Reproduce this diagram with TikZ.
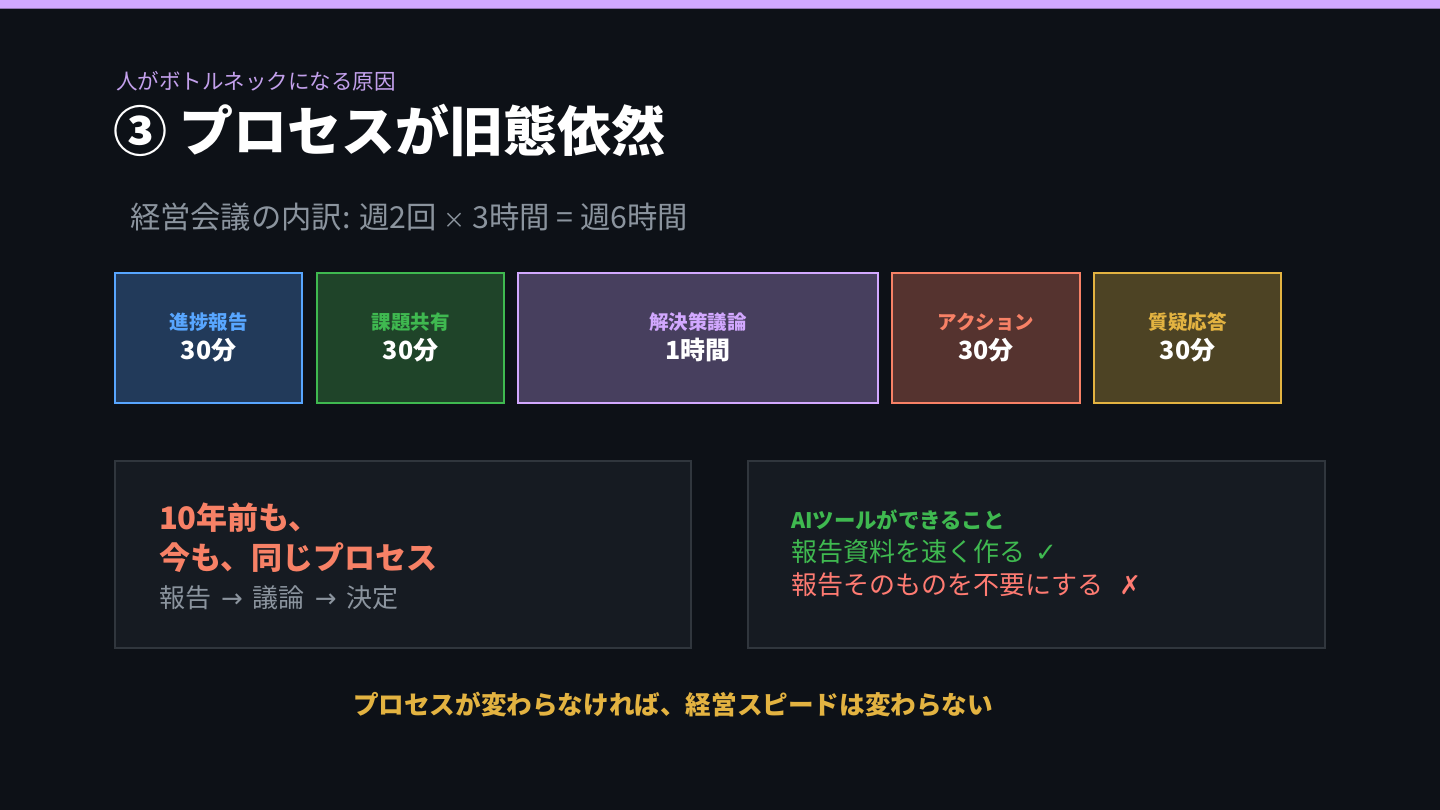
\documentclass[tikz,border=0pt]{standalone}
\usepackage{fontspec}
\setmainfont{Noto Sans CJK JP}
\newfontfamily\sym{DejaVu Sans}
\definecolor{bg}{HTML}{0D1117}
\definecolor{topbar}{HTML}{D2A8FF}
\definecolor{subpurple}{HTML}{C3A0EC}
\definecolor{gray1}{HTML}{8B949E}
\definecolor{cblue}{HTML}{58A6FF}
\definecolor{fblue}{HTML}{223A5A}
\definecolor{cgreen}{HTML}{3FB950}
\definecolor{fgreen}{HTML}{1F4429}
\definecolor{cpurple}{HTML}{D2A8FF}
\definecolor{fpurple}{HTML}{473F5E}
\definecolor{corange}{HTML}{F78166}
\definecolor{forange}{HTML}{55332F}
\definecolor{cyellow}{HTML}{E3B341}
\definecolor{fyellow}{HTML}{4D4324}
\definecolor{panelfill}{HTML}{161B22}
\definecolor{panelline}{HTML}{30363D}
\definecolor{cred}{HTML}{FF7B72}
\tikzset{
  seg/.style={draw=#1, line width=1.6pt, rectangle},
  panel/.style={draw=panelline, fill=panelfill, line width=1.6pt},
  txt/.style={anchor=west, inner sep=0pt, outer sep=0pt},
  ctxt/.style={anchor=center, inner sep=0pt, outer sep=0pt},
}
\begin{document}
\begin{tikzpicture}[x=1pt,y=-1pt]
\useasboundingbox (0,0) rectangle (1440,810);
\fill[bg] (0,0) rectangle (1440,810);
\fill[topbar] (0,0) rectangle (1440,8);
\draw[color=topbar!70!black, line width=1pt] (0,8.5) -- (1440,8.5);

% titles
\node[txt, text=subpurple, font=\fontsize{21.5}{26}\selectfont] (sub) at (116,81) {人がボトルネックになる原因};
\node[txt, text=white, font=\fontsize{54}{64}\selectfont\bfseries] (title) at (113,130) {③ プロセスが旧態依然};
\node[txt, text=gray1, font=\fontsize{30.3}{36}\selectfont] (breakdown) at (130,217) {経営会議の内訳: 週2回 {\fontsize{22}{26}\selectfont ×} 3時間 = 週6時間};

% segments
\path[seg=cblue, fill=fblue] (115,273) rectangle (302,403);
\path[seg=cgreen, fill=fgreen] (317,273) rectangle (504,403);
\path[seg=cpurple, fill=fpurple] (518,273) rectangle (878,403);
\path[seg=corange, fill=forange] (892,273) rectangle (1080,403);
\path[seg=cyellow, fill=fyellow] (1094,273) rectangle (1281,403);

\tikzset{lab/.style={ctxt, text=#1, font=\fontsize{19.5}{23}\selectfont\bfseries},
         val/.style={ctxt, text=white, font=\fontsize{25}{30}\selectfont\bfseries}}
\node[lab=cblue] (l1) at (208.5,322) {進捗報告};
\node[val] (v1) at (208.5,350) {30分};
\node[lab=cgreen] (l2) at (410.5,322) {課題共有};
\node[val] (v2) at (410.5,350) {30分};
\node[lab=cpurple] (l3) at (698,322) {解決策議論};
\node[val] (v3) at (698,350) {1時間};
\node[lab=corange] (l4) at (986,322) {アクション};
\node[val] (v4) at (986,350) {30分};
\node[lab=cyellow] (l5) at (1187.5,322) {質疑応答};
\node[val] (v5) at (1187.5,350) {30分};

% panels
\path[panel] (115,461) rectangle (691,648);
\path[panel] (748,461) rectangle (1325,648);

\node[txt, text=corange, font=\fontsize{31}{36}\selectfont\bfseries] (p1a) at (159,518) {10年前も、};
\node[txt, text=corange, font=\fontsize{31}{36}\selectfont\bfseries] (p1b) at (159,558) {今も、同じプロセス};
\node[txt, text=gray1, font=\fontsize{26}{30}\selectfont] (p1c) at (159,598) {報告\hspace{10pt}{\sym →}\hspace{10pt}議論\hspace{10pt}{\sym →}\hspace{10pt}決定};

\node[txt, text=cgreen, font=\fontsize{21.4}{26}\selectfont\bfseries] (p2a) at (791,520) {AIツールができること};
\node[txt, text=cgreen, font=\fontsize{26}{30}\selectfont] (p2b) at (791,552) {報告資料を速く作る\hspace{10pt}{\sym ✓}};
\node[txt, text=cred, font=\fontsize{26}{30}\selectfont] (p2c) at (791,585) {報告そのものを不要にする\hspace{16pt}{\sym ✗}};

% bottom
\node[ctxt, text=cyellow, font=\fontsize{25.6}{30}\selectfont\bfseries] (bottom) at (673,705) {プロセスが変わらなければ、経営スピードは変わらない};
\end{tikzpicture}
\end{document}
